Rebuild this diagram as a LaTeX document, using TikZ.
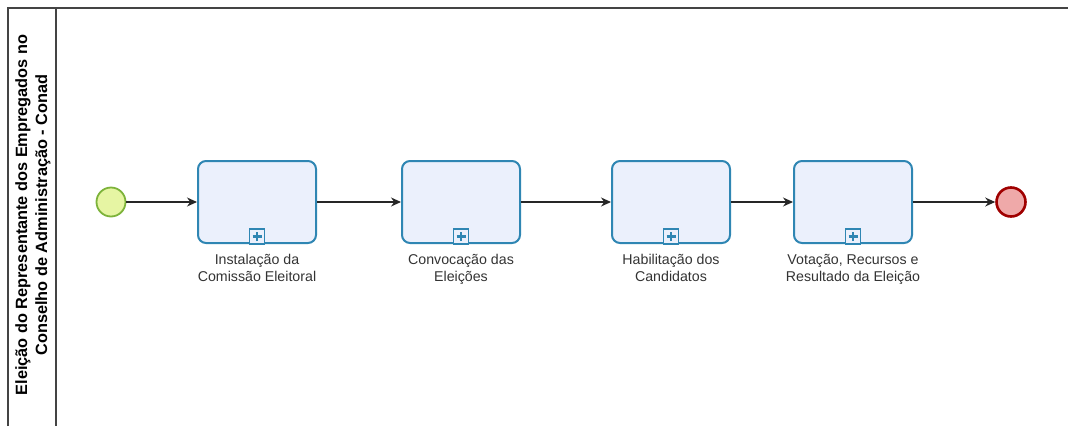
\documentclass[tikz,border=0pt]{standalone}
\usepackage{fontspec}
\setmainfont{Liberation Sans}
\usetikzlibrary{arrows.meta}
\definecolor{taskfill}{HTML}{EBF0FC}
\definecolor{taskline}{HTML}{2F86B3}
\definecolor{startfill}{HTML}{E6F5A3}
\definecolor{startline}{HTML}{7DB33A}
\definecolor{endfill}{HTML}{EFA9A9}
\definecolor{endline}{HTML}{A00000}
\definecolor{poolline}{HTML}{444444}
\definecolor{labeltext}{HTML}{333333}
\begin{document}
\begin{tikzpicture}[x=1pt,y=-1pt,
  taskbox/.style={draw=taskline,fill=taskfill,line width=2pt,rounded corners=8pt,minimum width=118pt,minimum height=82pt,inner sep=0pt},
  startev/.style={circle,draw=startline,fill=startfill,line width=1.8pt,minimum size=29pt,inner sep=0pt},
  endev/.style={circle,draw=endline,fill=endfill,line width=2.6pt,minimum size=29pt,inner sep=0pt},
  marker/.style={draw=taskline,fill=taskfill,line width=1.6pt,minimum size=15pt,inner sep=0pt},
  tasklabel/.style={text=labeltext,font=\fontsize{14.2}{17}\selectfont,align=center,anchor=north},
  flow/.style={draw=black!85,line width=1.1pt,-{Stealth[length=10pt,width=9pt]}},
  poolborder/.style={draw=poolline,line width=1.6pt}
]
\useasboundingbox (0,0) rectangle (1068,426);
\draw[poolborder] (8,426) -- (8,8) -- (1068,8);
\draw[poolborder] (56,8) -- (56,426);
\node[rotate=90,font=\bfseries\fontsize{16.3}{20}\selectfont,align=center] (lane) at (33,215) {Eleição do Representante dos Empregados no\\Conselho de Administração - Conad};

\node[startev] (start) at (111,202) {};
\node[taskbox] (t1) at (257,202) {};
\node[taskbox] (t2) at (461,202) {};
\node[taskbox] (t3) at (671,202) {};
\node[taskbox] (t4) at (853,202) {};
\node[endev] (end) at (1011,202) {};

\foreach \t in {t1,t2,t3,t4}{
  \node[marker,anchor=south] (\t m) at ([yshift=-0.8pt]\t.south) {};
  \draw[taskline,line width=2.6pt] ([yshift=-4.5pt]\t m.center) -- ([yshift=4.5pt]\t m.center);
  \draw[taskline,line width=2.6pt] ([xshift=-4.5pt]\t m.center) -- ([xshift=4.5pt]\t m.center);
}

\node[tasklabel] (l1) at (257,251) {Instalação da\\Comissão Eleitoral};
\node[tasklabel] (l2) at (461,251) {Convocação das\\Eleições};
\node[tasklabel] (l3) at (671,251) {Habilitação dos\\Candidatos};
\node[tasklabel] (l4) at (853,251) {Votação, Recursos e\\Resultado da Eleição};

\draw[flow] (start) -- (t1);
\draw[flow] (t1) -- (t2);
\draw[flow] (t2) -- (t3);
\draw[flow] (t3) -- (t4);
\draw[flow] (t4) -- (end);
\end{tikzpicture}
\end{document}
